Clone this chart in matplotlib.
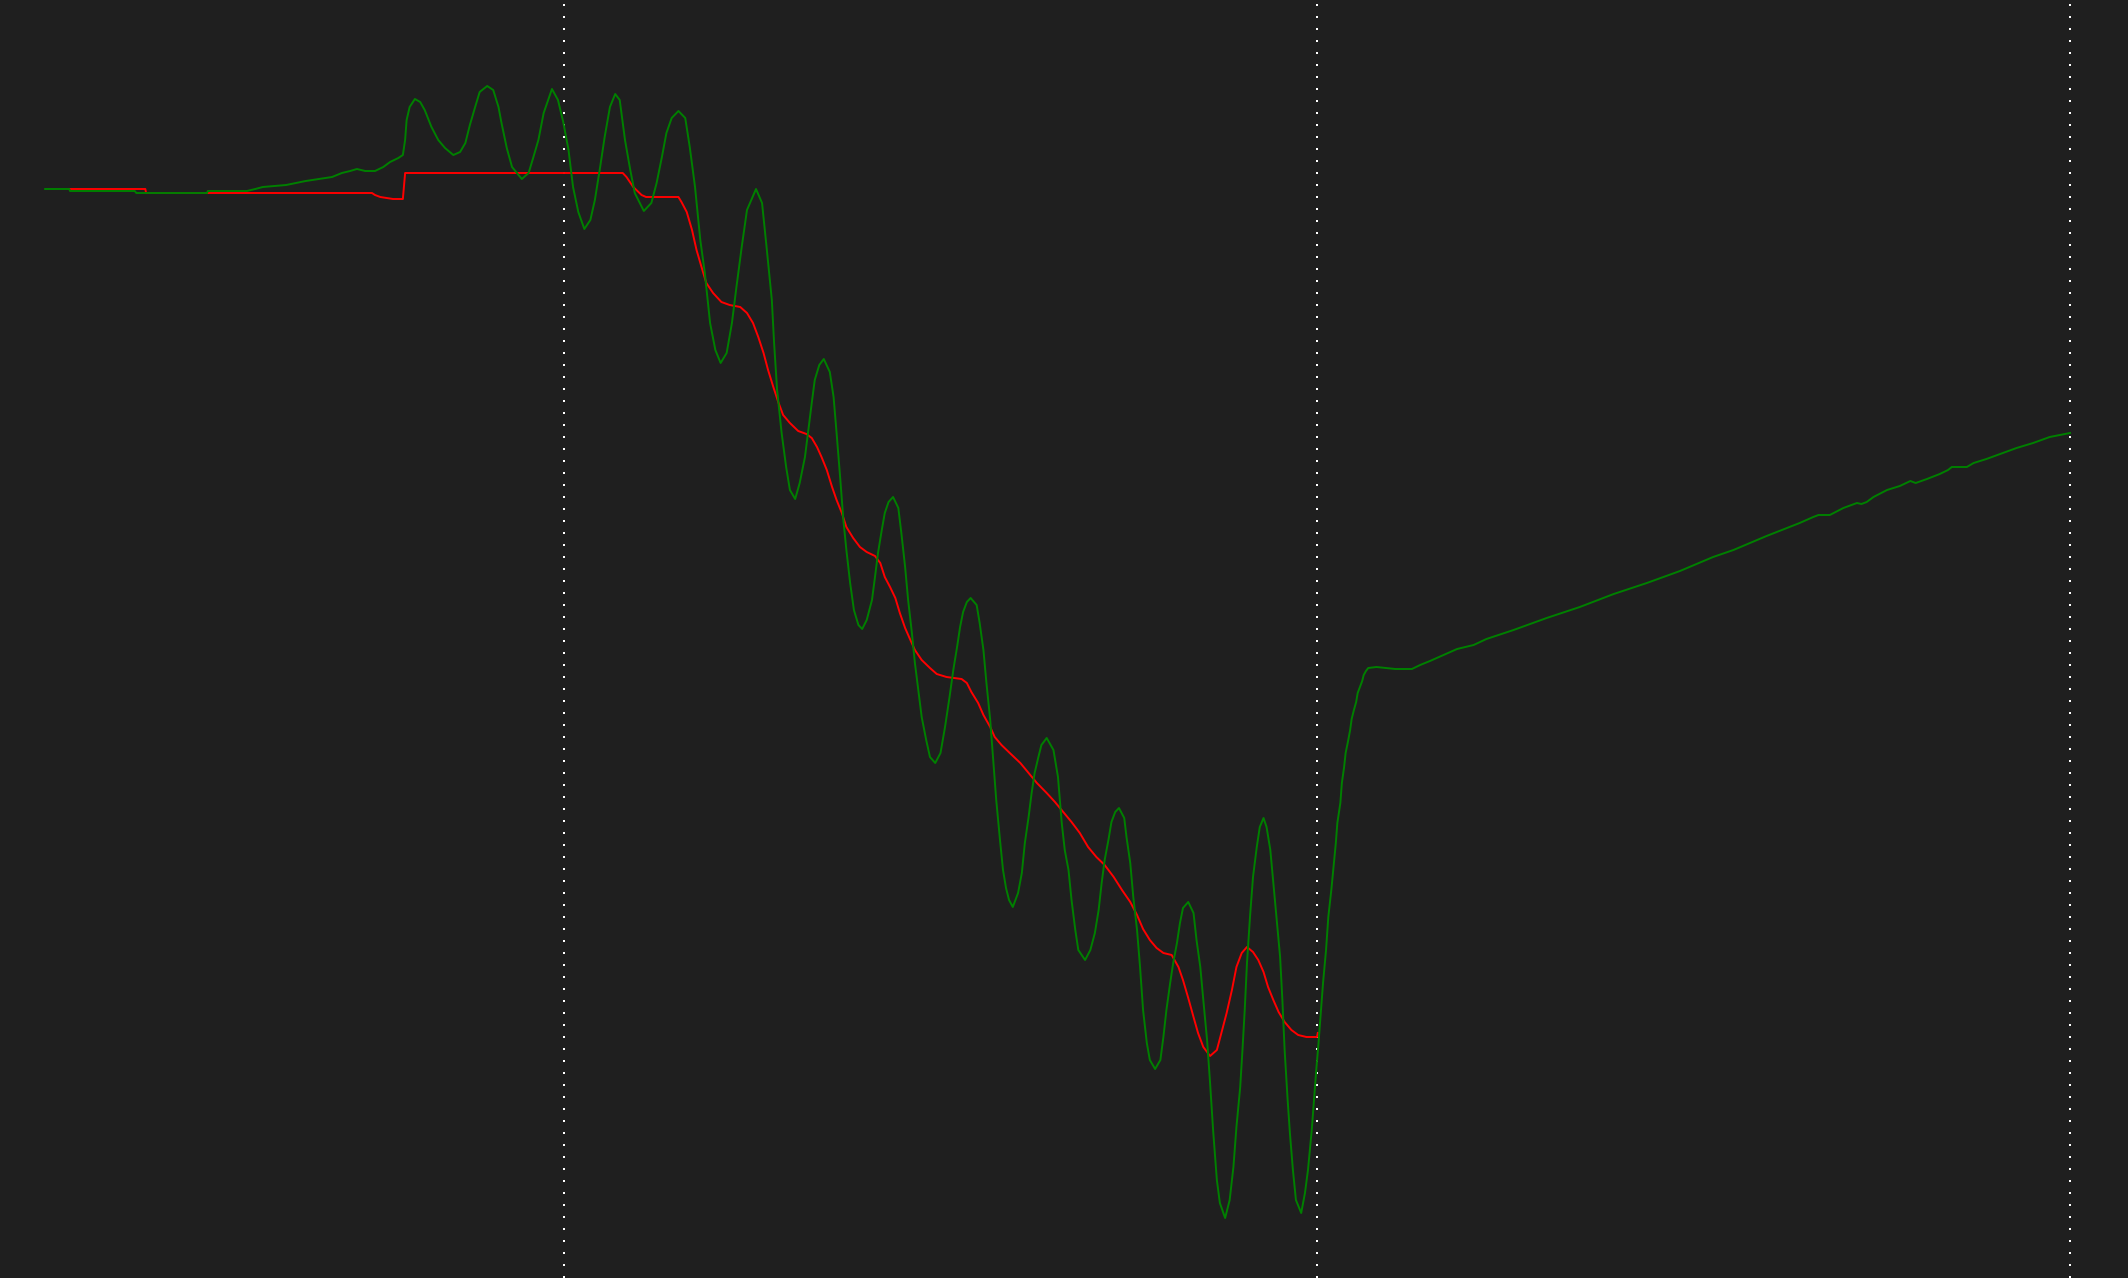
import matplotlib
matplotlib.use("Agg")
import matplotlib.pyplot as plt

# frame markers (dotted verticals)
markers = [100, 200, 300]

# green trace (raw signal), x in frames, y in arbitrary level units
green_x = [31.1, 34.3, 34.4, 43.0, 43.2, 52.6, 52.7, 57.9, 59.0, 60.0,
           63.1, 64.4, 65.7, 67.5, 69.2, 70.5, 71.6, 72.5, 73.6, 74.9,
           76.0, 76.9, 78.0, 78.6, 78.9, 79.1, 79.5, 80.2, 80.9, 81.5,
           82.4, 83.3, 84.2, 85.3, 86.2, 86.9, 87.5, 88.2, 88.8, 89.8,
           90.6, 91.3, 91.7, 92.4, 93.1, 94.4, 95.3, 95.9, 96.6, 97.3,
           98.4, 99.2, 99.9, 100.6, 101.2, 101.9, 102.7, 103.5, 104.1, 104.8,
           105.4, 106.1, 106.8, 107.4, 108.1, 108.8, 109.4, 110.6, 111.6, 112.3,
           113.0, 113.6, 114.3, 115.2, 116.1, 116.7, 117.4, 118.1, 118.7, 119.4,
           120.1, 120.8, 121.6, 122.3, 122.9, 123.6, 124.3, 125.5, 126.3, 126.9,
           127.6, 127.9, 128.3, 128.9, 129.5, 130.0, 130.7, 131.3, 132.0, 132.4,
           132.9, 133.3, 133.9, 134.5, 135.3, 135.8, 136.2, 136.7, 137.1, 137.5,
           138.0, 138.5, 139.1, 139.6, 140.2, 140.9, 141.3, 141.7, 142.2, 142.6,
           143.1, 143.7, 144.4, 144.8, 145.3, 145.7, 146.2, 146.6, 147.1, 147.5,
           148.1, 148.6, 149.3, 150.0, 150.6, 151.2, 151.7, 152.2, 152.6, 153.0,
           153.5, 154.0, 154.8, 155.2, 155.7, 156.1, 156.6, 157.0, 157.4, 157.9,
           158.3, 158.7, 159.1, 159.6, 160.3, 160.8, 161.2, 161.7, 162.1, 162.5,
           163.0, 163.4, 164.1, 165.0, 165.6, 166.1, 166.5, 167.0, 167.4, 167.9,
           168.3, 169.2, 169.9, 170.5, 171.0, 171.4, 171.8, 172.3, 172.7, 173.2,
           173.7, 174.4, 174.7, 175.2, 175.6, 176.1, 176.5, 176.9, 177.4, 177.8,
           178.5, 179.2, 179.6, 180.0, 180.5, 180.9, 181.4, 181.8, 182.2, 182.9,
           183.6, 184.0, 184.5, 184.9, 185.4, 185.8, 186.2, 186.7, 187.1, 187.8,
           188.4, 188.9, 189.3, 189.8, 190.1, 190.4, 190.7, 191.1, 191.5, 192.0,
           192.4, 192.9, 193.3, 193.8, 194.2, 194.6, 195.1, 195.4, 195.7, 196.1,
           196.4, 196.8, 197.2, 197.9, 198.4, 198.8, 199.3, 199.6, 199.9, 200.2,
           200.5, 200.8, 201.2, 201.5, 201.9, 202.2, 202.5, 202.7, 203.1, 203.3,
           203.6, 203.8, 204.1, 204.4, 204.6, 204.9, 205.2, 205.4, 205.7, 206.0,
           206.2, 206.5, 206.8, 207.9, 210.4, 212.6, 213.7, 215.0, 216.8, 218.6,
           220.8, 222.5, 226.1, 230.5, 234.9, 239.4, 243.8, 248.2, 252.6, 255.3,
           259.7, 264.1, 265.9, 266.6, 268.1, 269.9, 271.7, 272.3, 273.0, 273.9,
           275.7, 277.4, 278.8, 279.5, 281.0, 282.7, 283.8, 284.3, 286.3, 287.2,
           288.9, 290.7, 292.9, 295.1, 297.3, 300.0]
green_y = [108.9, 108.9, 108.7, 108.7, 108.5, 108.5, 108.7, 108.7, 108.9, 109.1,
           109.3, 109.5, 109.7, 109.9, 110.1, 110.5, 110.7, 110.9, 110.7, 110.7,
           111.1, 111.6, 112.0, 112.3, 113.8, 115.8, 117.1, 117.9, 117.6, 116.8,
           115.1, 113.8, 113.0, 112.3, 112.6, 113.5, 115.3, 117.1, 118.6, 119.2,
           118.8, 117.1, 115.5, 113.0, 111.1, 109.9, 110.5, 112.0, 113.8, 116.5,
           118.9, 117.8, 115.6, 112.8, 109.1, 106.6, 104.9, 105.8, 107.8, 111.1,
           114.1, 117.1, 118.4, 117.8, 113.8, 110.8, 108.5, 106.7, 107.5, 109.5,
           112.1, 114.5, 116.0, 116.7, 116.0, 113.1, 109.1, 103.8, 100.5, 95.5,
           92.8, 91.5, 92.5, 95.5, 99.1, 103.1, 106.8, 108.9, 107.5, 103.1,
           97.8, 93.5, 88.8, 84.5, 81.1, 78.8, 77.9, 79.5, 82.1, 84.5,
           87.5, 89.8, 91.3, 91.9, 90.6, 88.1, 84.5, 79.8, 75.8, 72.8,
           69.5, 66.8, 65.3, 64.9, 65.8, 67.8, 70.1, 72.5, 74.8, 76.5,
           77.6, 78.1, 77.0, 74.5, 71.1, 67.8, 64.5, 61.5, 58.5, 56.1,
           53.8, 52.1, 51.5, 52.5, 55.1, 58.1, 60.8, 63.1, 65.1, 66.6,
           67.6, 68.0, 67.3, 65.5, 62.8, 59.5, 55.8, 51.8, 47.8, 43.8,
           40.8, 39.0, 37.8, 37.1, 38.5, 40.5, 43.5, 46.1, 48.5, 50.5,
           52.1, 53.3, 54.0, 52.8, 50.1, 45.5, 42.8, 40.8, 37.8, 34.8,
           32.8, 31.8, 32.8, 34.5, 36.8, 39.5, 41.8, 43.8, 45.6, 46.6,
           47.0, 46.0, 44.1, 41.5, 38.1, 34.8, 31.1, 26.8, 23.5, 21.8,
           20.9, 21.8, 24.1, 26.8, 29.5, 31.5, 33.5, 35.5, 37.0, 37.6,
           36.5, 33.8, 31.1, 27.8, 23.8, 19.5, 14.8, 9.8, 7.5, 6.0,
           7.8, 11.1, 15.1, 19.1, 22.8, 26.8, 31.5, 36.1, 40.1, 43.1,
           45.1, 46.0, 45.1, 42.8, 39.5, 36.1, 32.1, 27.8, 22.8, 17.8,
           14.5, 10.8, 7.8, 6.5, 8.5, 10.8, 14.8, 17.8, 20.8, 23.5,
           26.5, 29.5, 32.8, 36.1, 38.8, 41.1, 43.5, 45.5, 47.5, 49.5,
           51.1, 52.5, 53.6, 54.8, 55.9, 56.8, 57.6, 58.5, 59.1, 59.7,
           60.3, 60.7, 61.0, 61.1, 60.9, 60.9, 61.3, 61.7, 62.3, 62.9,
           63.3, 63.9, 64.8, 66.0, 67.1, 68.4, 69.5, 70.7, 72.1, 72.8,
           74.2, 75.5, 76.1, 76.3, 76.3, 77.0, 77.5, 77.4, 77.6, 78.1,
           78.8, 79.2, 79.7, 79.5, 79.9, 80.4, 80.8, 81.1, 81.1, 81.5,
           81.9, 82.4, 83.0, 83.5, 84.1, 84.5]

# red trace (smoothed signal)
red_x = [34.3, 44.4, 44.5, 74.5, 74.9, 75.6, 77.3, 78.6, 78.9, 107.8,
         108.3, 109.2, 110.3, 110.9, 115.2, 115.6, 116.3, 117.0, 117.6, 118.3,
         118.9, 119.8, 120.9, 122.0, 123.4, 124.3, 125.1, 125.8, 126.5, 127.1,
         127.8, 128.5, 129.1, 130.0, 131.1, 132.2, 132.9, 133.6, 134.2, 134.9,
         135.6, 136.2, 136.9, 137.5, 138.4, 139.3, 140.2, 141.3, 142.0, 142.6,
         143.3, 144.0, 144.6, 145.3, 146.0, 146.6, 147.5, 148.6, 149.5, 150.8,
         152.8, 153.5, 154.1, 155.0, 155.7, 156.6, 157.2, 158.1, 159.2, 160.6,
         161.7, 162.8, 164.1, 165.2, 166.3, 167.4, 168.5, 169.6, 170.7, 171.8,
         173.0, 174.1, 175.2, 176.1, 176.9, 177.8, 178.7, 179.6, 180.7, 181.6,
         182.2, 182.9, 183.6, 184.2, 184.9, 185.8, 186.7, 187.3, 188.0, 188.7,
         189.3, 190.0, 190.7, 191.5, 192.2, 192.9, 193.5, 194.2, 194.9, 195.7,
         196.6, 197.5, 198.6, 200.0, 200.1]
red_y = [108.9, 108.9, 108.5, 108.5, 108.3, 108.1, 107.9, 107.9, 110.5, 110.5,
         110.1, 109.1, 108.3, 108.1, 108.1, 107.6, 106.6, 104.8, 102.8, 101.0,
         99.5, 98.5, 97.6, 97.3, 97.1, 96.5, 95.5, 94.1, 92.5, 90.8,
         89.1, 87.5, 86.3, 85.5, 84.7, 84.4, 84.0, 83.1, 82.1, 80.8,
         79.1, 77.8, 76.5, 75.1, 74.0, 73.1, 72.6, 72.2, 71.5, 70.1,
         69.1, 68.0, 66.5, 65.0, 63.8, 62.8, 61.8, 61.0, 60.4, 60.1,
         59.9, 59.5, 58.6, 57.5, 56.3, 55.1, 54.1, 53.3, 52.5, 51.5,
         50.5, 49.5, 48.5, 47.6, 46.6, 45.6, 44.5, 43.1, 42.1, 41.3,
         40.1, 38.8, 37.6, 36.3, 34.9, 33.8, 33.0, 32.5, 32.3, 31.1,
         29.8, 28.0, 26.1, 24.5, 23.1, 22.2, 22.8, 24.5, 26.5, 28.8,
         31.1, 32.5, 33.1, 32.6, 31.8, 30.6, 29.1, 27.8, 26.6, 25.6,
         24.8, 24.3, 24.1, 24.1, 24.5]

bg = "#1f1f1f"
fig = plt.figure(figsize=(21.28, 12.78), dpi=100, facecolor=bg)
ax = fig.add_axes([0, 0, 1, 1])
ax.set_facecolor(bg)

for m in markers:
    ax.axvline(m, color="white", lw=1.44, linestyle=(0, (1, 5)), zorder=1)

ax.plot(red_x, red_y, color="#ff0000", lw=1.4, zorder=2)
ax.plot(green_x, green_y, color="#008000", lw=1.4, zorder=3)

ax.set_xlim(25.1, 307.7)
ax.set_ylim(0, 127.8)
ax.axis("off")

fig.savefig("out.png", dpi=100, facecolor=bg)
